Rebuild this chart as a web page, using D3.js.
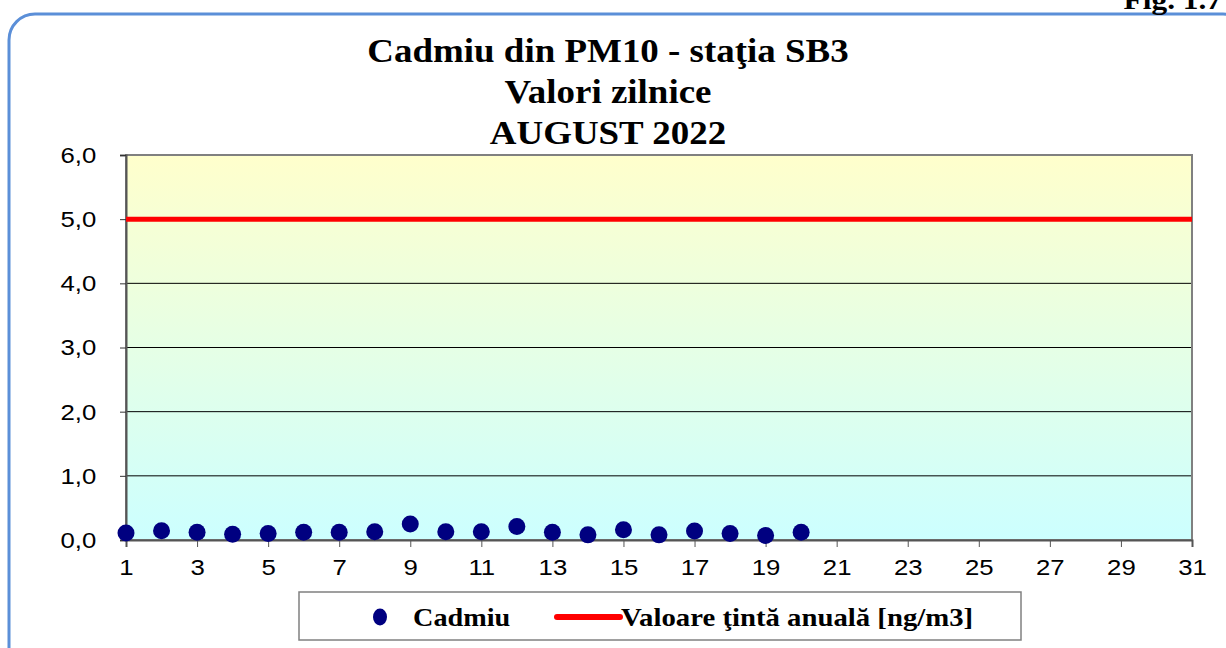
<!DOCTYPE html>
<html lang="ro">
<head>
    <meta charset="utf-8">
    <title>Cadmiu PM10 SB3</title>
    <script src="https://d3js.org/d3.v7.min.js" charset="utf-8"></script>
    <style type="text/css">
        body { margin: 0; background: #fff; }
        .ttl { font-family: "Liberation Serif", "Times New Roman", serif; font-weight: bold; }
    </style>
</head>
<body>
<script type="text/javascript">
    // data
    var days = d3.range(1, 32);
    var cadmiu = [0.11, 0.145, 0.12, 0.09, 0.10, 0.12, 0.12, 0.13, 0.25, 0.13,
                  0.13, 0.21, 0.12, 0.08, 0.16, 0.08, 0.14, 0.10, 0.07, 0.12];
    var valoareTinta = 5.0;
    var yTicks = [0, 1, 2, 3, 4, 5, 6];
    var xTicks = d3.range(1, 32, 2);
    var titleLines = ["Cadmiu din PM10 - staţia SB3", "Valori zilnice", "AUGUST 2022"];

    var W = 1226, H = 648;
    var plot = { left: 126, right: 1192, top: 155, bottom: 540 };
    var sx = 1.12; // the original text is drawn a bit wide

    var svg = d3.select("body").append("svg")
        .attr("width", W)
        .attr("height", H);

    // outer rounded frame
    svg.append("rect")
        .attr("x", 9).attr("y", 14)
        .attr("width", 1240).attr("height", 680)
        .attr("rx", 26).attr("ry", 26)
        .attr("fill", "#fff")
        .attr("stroke", "#5b8fd8")
        .attr("stroke-width", 3);

    svg.append("text")
        .attr("class", "ttl")
        .attr("transform", "translate(1222,9) scale(1.12,1)")
        .attr("text-anchor", "end")
        .attr("font-size", "28px")
        .text("Fig. 1.7");

    // title
    svg.selectAll("text.title")
        .data(titleLines)
        .enter().append("text")
        .attr("class", "ttl title")
        .attr("transform", function (d, i) { return "translate(608," + (62 + i * 41) + ") scale(1.12,1)"; })
        .attr("text-anchor", "middle")
        .attr("font-size", "33px")
        .text(function (d) { return d; });

    var x = d3.scaleLinear().domain([1, 31]).range([plot.left, plot.right]);
    var y = d3.scaleLinear().domain([0, 6]).range([plot.bottom, plot.top]);

    var grad = svg.append("defs").append("linearGradient")
        .attr("id", "bg").attr("x1", 0).attr("y1", 0).attr("x2", 0).attr("y2", 1);
    grad.append("stop").attr("offset", "0%").attr("stop-color", "#ffffcc");
    grad.append("stop").attr("offset", "100%").attr("stop-color", "#ccffff");

    svg.append("rect")
        .attr("x", plot.left).attr("y", plot.top)
        .attr("width", plot.right - plot.left)
        .attr("height", plot.bottom - plot.top)
        .attr("fill", "url(#bg)");

    // gridlines
    svg.selectAll("line.grid")
        .data(yTicks.filter(function (d) { return d > 0 && d < 6; }))
        .enter().append("line")
        .attr("x1", plot.left).attr("x2", plot.right)
        .attr("y1", function (d) { return y(d); })
        .attr("y2", function (d) { return y(d); })
        .attr("stroke", "#000").attr("stroke-width", 1);

    svg.append("rect")
        .attr("x", plot.left).attr("y", plot.top)
        .attr("width", plot.right - plot.left)
        .attr("height", plot.bottom - plot.top)
        .attr("fill", "none")
        .attr("stroke", "#808080").attr("stroke-width", 2);

    // axes
    var yAxis = svg.append("g")
        .attr("transform", "translate(" + plot.left + ",0)")
        .call(d3.axisLeft(y).tickValues(yTicks).tickSize(6).tickPadding(20.5)
            .tickFormat(function (d) { return d3.format(".1f")(d).replace(".", ","); }))
        .attr("font-family", "'Liberation Sans', Arial, sans-serif")
        .attr("font-size", 23);
    yAxis.select(".domain").attr("stroke", "#555").attr("stroke-width", 2);
    yAxis.selectAll(".tick line").attr("stroke", "#333");
    yAxis.selectAll(".tick text").attr("fill", "#000").attr("transform", "scale(" + sx + ",1)");

    var xAxis = svg.append("g")
        .attr("transform", "translate(0," + plot.bottom + ")")
        .call(d3.axisBottom(x).tickValues(xTicks).tickSize(7).tickPadding(12))
        .attr("font-family", "'Liberation Sans', Arial, sans-serif")
        .attr("font-size", 23);
    xAxis.select(".domain").attr("stroke", "#555").attr("stroke-width", 2);
    xAxis.selectAll(".tick line").attr("stroke", "#555");
    xAxis.selectAll(".tick text").attr("fill", "#000").attr("transform", "scale(" + sx + ",1)");

    // target line
    svg.append("line")
        .attr("x1", x(1)).attr("x2", x(31))
        .attr("y1", y(valoareTinta)).attr("y2", y(valoareTinta))
        .attr("stroke", "#ff0000").attr("stroke-width", 5);

    // points
    svg.selectAll("circle.pt")
        .data(cadmiu)
        .enter().append("circle")
        .attr("class", "pt")
        .attr("cx", function (d, i) { return x(days[i]); })
        .attr("cy", function (d) { return y(d); })
        .attr("r", 8.5)
        .attr("fill", "#000080");

    // legend
    var lg = svg.append("g");
    lg.append("rect")
        .attr("x", 299).attr("y", 592).attr("width", 722).attr("height", 48)
        .attr("fill", "#fff").attr("stroke", "#808080").attr("stroke-width", 1.5);
    lg.append("ellipse")
        .attr("cx", 380).attr("cy", 617).attr("rx", 7).attr("ry", 8.5)
        .attr("fill", "#000080");
    lg.append("text").attr("class", "ttl")
        .attr("transform", "translate(413,626) scale(1.13,1)")
        .attr("font-size", "25px")
        .text("Cadmiu");
    lg.append("line")
        .attr("x1", 557).attr("x2", 620).attr("y1", 617).attr("y2", 617)
        .attr("stroke", "#ff0000").attr("stroke-width", 6).attr("stroke-linecap", "round");
    lg.append("text").attr("class", "ttl")
        .attr("transform", "translate(621,626) scale(1.15,1)")
        .attr("font-size", "25px")
        .text("Valoare ţintă anuală [ng/m3]");
</script>
</body>
</html>
